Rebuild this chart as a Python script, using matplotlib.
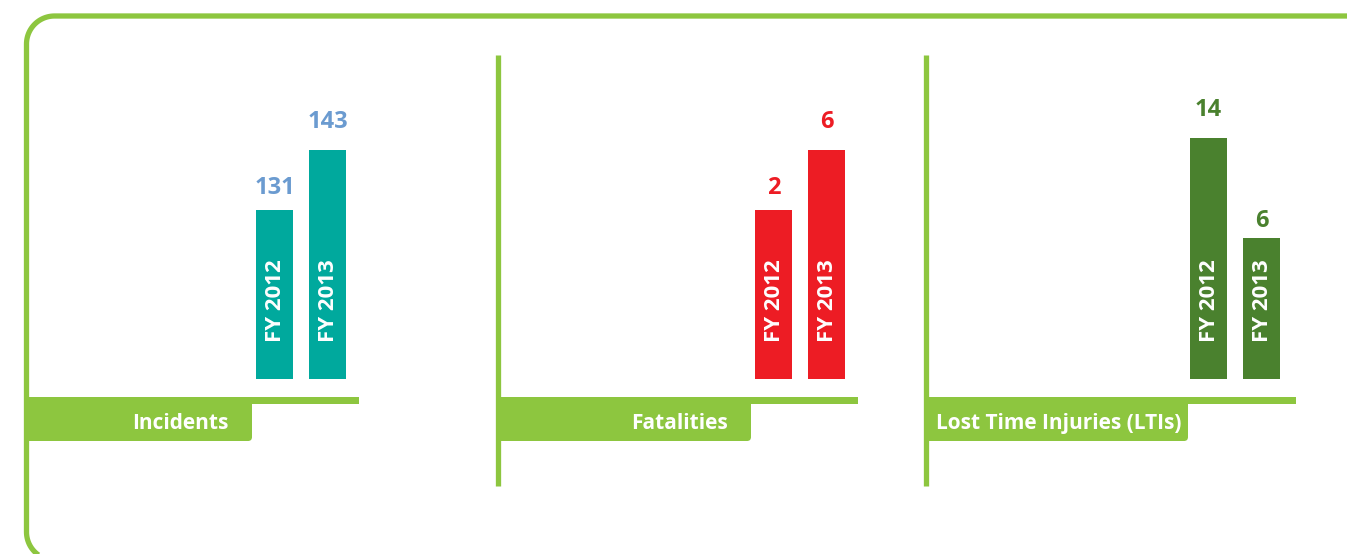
import numpy as np
import matplotlib.pyplot as plt
from matplotlib.patches import FancyBboxPatch, Rectangle

# data
panels = ['Incidents', 'Fatalities', 'Lost Time Injuries (LTIs)']
years = ['FY 2012', 'FY 2013']
incidents = [131, 143]
fatalities = [2, 6]
ltis = [14, 6]

# style
GREEN = '#8DC63F'
bar_colors = ['#00A99D', '#ED1C24', '#4A812E']
label_colors = ['#6B9BD0', '#ED1C24', '#4A812E']
FONT = 'Open Sans'

W, H = 1347, 554
fig = plt.figure(figsize=(W / 100, H / 100), dpi=100)

# background axes in pixel coords for the frame, dividers and tabs
bg = fig.add_axes([0, 0, 1, 1])
bg.set_xlim(0, W)
bg.set_ylim(H, 0)
bg.axis('off')

# outer frame: open on the right, rounded on the left
fx, ftop, fbot, r = 26.5, 16, 560, 28
t1 = np.linspace(np.pi / 2, np.pi, 30)
t2 = t1 + np.pi / 2
xs = np.concatenate([[W + 5], fx + r + r * np.cos(t1), fx + r + r * np.cos(t2), [W + 5]])
ys = np.concatenate([[ftop], ftop + r - r * np.sin(t1), fbot - r - r * np.sin(t2), [fbot]])
bg.plot(xs, ys, color=GREEN, lw=3.8, solid_capstyle='butt', solid_joinstyle='round')

# per panel layout: left line x, line right end, tab right end, label right edge, line top
layout = [
    dict(x0=26.5, x1=359, tab=252, txt=229, top=None),
    dict(x0=498, x1=858, tab=751, txt=728, top=55),
    dict(x0=925.5, x1=1296, tab=1188, txt=1182, top=55),
]
for lay, name in zip(layout, panels):
    if lay['top'] is not None:
        bg.plot([lay['x0'], lay['x0']], [lay['top'], 486], color=GREEN, lw=3.8, solid_capstyle='butt')
    bg.add_patch(Rectangle((lay['x0'], 397), lay['x1'] - lay['x0'], 7, color=GREEN, lw=0))
    bg.add_patch(FancyBboxPatch((lay['x0'], 398), lay['tab'] - lay['x0'], 43,
                                boxstyle='round,pad=0,rounding_size=4', color=GREEN, lw=0))
    bg.add_patch(Rectangle((lay['x0'], 398), 20, 43, color=GREEN, lw=0))
    bg.text(lay['txt'], 429, name, ha='right', va='baseline', color='white',
            fontsize=15, fontweight='bold', family=FONT)

# bar axes: bottom at pixel 379, top at pixel 100
bar_left = [256, 755, 1190]
bar_w, pitch = 37, 53
bottom_px, top_px = 379, 100
# y scale of each panel (baseline value, pixels per unit)
scales = [(97.2, 5.0), (-9.27, 15.0), (-5.28, 12.5)]
label_gap = [(16, 22), (16, 22), (22, 11)]

for k, vals in enumerate([incidents, fatalities, ltis]):
    left = bar_left[k]
    width_px = pitch + bar_w
    ax = fig.add_axes([left / W, 1 - bottom_px / H, width_px / W, (bottom_px - top_px) / H])
    ax.patch.set_alpha(0)
    ax.axis('off')
    w = bar_w / pitch
    base, ppu = scales[k]
    ax.set_xlim(-w / 2, 1 + w / 2)
    ax.set_ylim(base, base + (bottom_px - top_px) / ppu)
    ax.bar([0, 1], [v - base for v in vals], bottom=base, width=w, color=bar_colors[k], lw=0)
    for i, v in enumerate(vals):
        ax.annotate(str(v), (i, v), xytext=(0, label_gap[k][i]), textcoords='offset pixels',
                    ha='center', va='baseline', color=label_colors[k],
                    fontsize=17, fontweight='bold', family=FONT)
        ax.annotate(years[i], (i, base), xytext=(1, 37), textcoords='offset pixels',
                    ha='center', va='bottom', rotation=90, color='white',
                    fontsize=16, fontweight='bold', family=FONT)

fig.savefig('out.png', dpi=100)
